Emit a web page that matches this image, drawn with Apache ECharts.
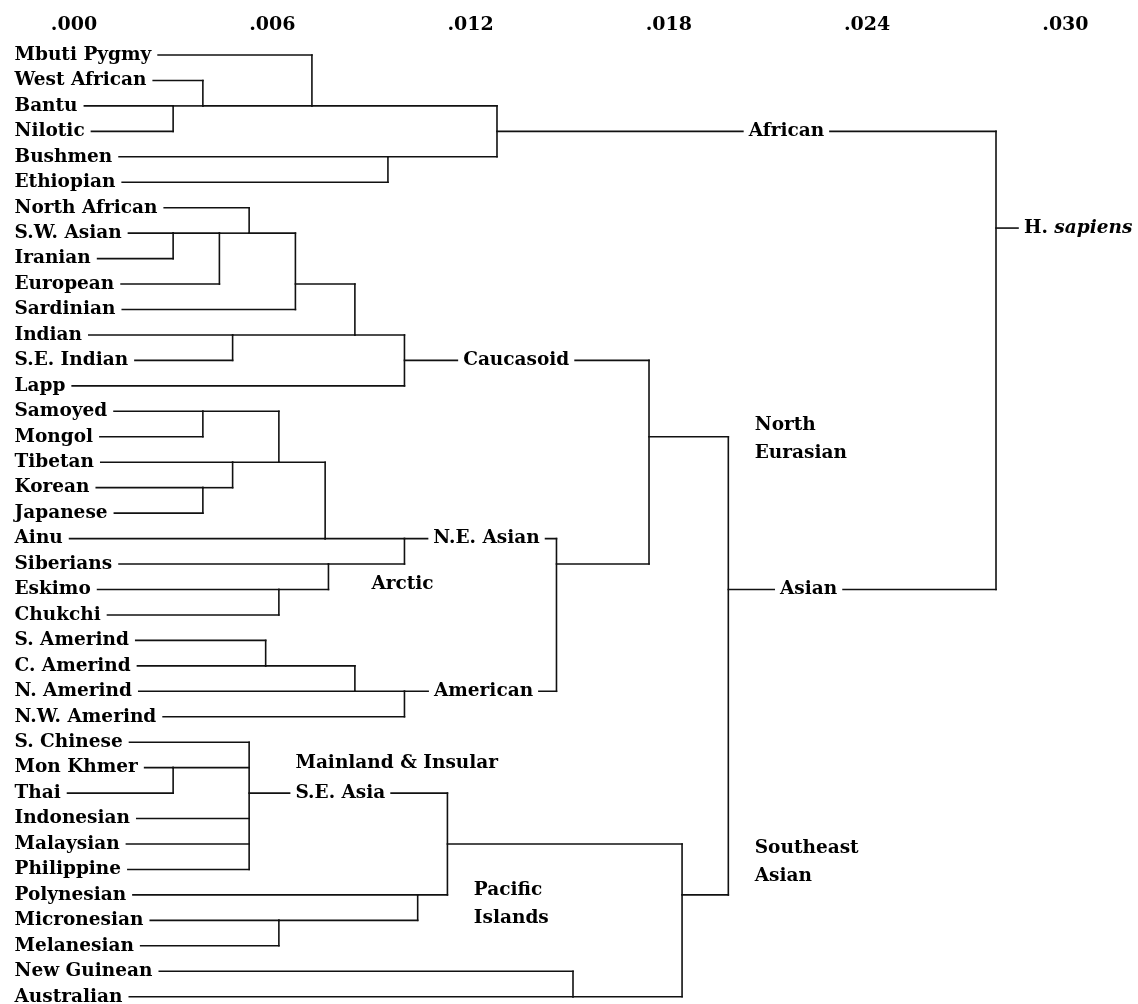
<!DOCTYPE html>
<html>
<head>
<meta charset="utf-8">
<script src="https://cdn.jsdelivr.net/npm/echarts@6/dist/echarts.min.js"></script>
<style>html,body{margin:0;padding:0;background:#fff}#chart{width:1138px;height:1004px}</style>
</head>
<body>
<div id="chart"></div>
<script>
// ---- Data (genetic distance, rows top to bottom) ----
const leafNames = [
  'Mbuti Pygmy','West African','Bantu','Nilotic','Bushmen','Ethiopian',
  'North African','S.W. Asian','Iranian','European','Sardinian','Indian','S.E. Indian','Lapp',
  'Samoyed','Mongol','Tibetan','Korean','Japanese','Ainu','Siberians','Eskimo','Chukchi',
  'S. Amerind','C. Amerind','N. Amerind','N.W. Amerind',
  'S. Chinese','Mon Khmer','Thai','Indonesian','Malaysian','Philippine',
  'Polynesian','Micronesian','Melanesian','New Guinean','Australian'
];

const nodeIds = [
  'Bantu+Nilotic','WestAfrican+','Mbuti+','Bushmen+Ethiopian','African',
  'SWAsian+Iranian','+European','+NorthAfrican','+Sardinian','Indian+SEIndian','Europe+India','Caucasoid',
  'Samoyed+Mongol','Korean+Japanese','Tibetan+','EastAsia','+Ainu','Eskimo+Chukchi','Arctic','N.E. Asian',
  'SAmerind+CAmerind','+NAmerind','American','NEAsia+America','North Eurasian',
  'MonKhmer+Thai','S.E. Asia','Micronesian+Melanesian','Pacific Islands','SEAsia+Pacific',
  'NewGuinean+Australian','Southeast Asian','Asian','H. sapiens'
];

const nodeChildren = [
  ['Bantu','Nilotic'], ['West African','Bantu+Nilotic'], ['Mbuti Pygmy','WestAfrican+'],
  ['Bushmen','Ethiopian'], ['Mbuti+','Bushmen+Ethiopian'],
  ['S.W. Asian','Iranian'], ['SWAsian+Iranian','European'], ['North African','+European'],
  ['+NorthAfrican','Sardinian'], ['Indian','S.E. Indian'], ['+Sardinian','Indian+SEIndian'],
  ['Europe+India','Lapp'],
  ['Samoyed','Mongol'], ['Korean','Japanese'], ['Tibetan','Korean+Japanese'],
  ['Samoyed+Mongol','Tibetan+'], ['EastAsia','Ainu'], ['Eskimo','Chukchi'],
  ['Siberians','Eskimo+Chukchi'], ['+Ainu','Arctic'],
  ['S. Amerind','C. Amerind'], ['SAmerind+CAmerind','N. Amerind'], ['+NAmerind','N.W. Amerind'],
  ['N.E. Asian','American'], ['Caucasoid','NEAsia+America'],
  ['Mon Khmer','Thai'], ['S. Chinese','MonKhmer+Thai','Indonesian','Malaysian','Philippine'],
  ['Micronesian','Melanesian'], ['Polynesian','Micronesian+Melanesian'],
  ['S.E. Asia','Pacific Islands'], ['New Guinean','Australian'],
  ['SEAsia+Pacific','NewGuinean+Australian'], ['North Eurasian','Southeast Asian'],
  ['African','Asian']
];

const nodeHeights = [
  0.0030, 0.0039, 0.0072, 0.0095, 0.0128,
  0.0030, 0.0044, 0.0053, 0.0067, 0.0048, 0.0085, 0.0100,
  0.0039, 0.0039, 0.0048, 0.0062, 0.0076, 0.0062, 0.0077, 0.0100,
  0.0058, 0.0085, 0.0100, 0.0146, 0.0174,
  0.0030, 0.0053, 0.0062, 0.0104, 0.0113,
  0.0151, 0.0184, 0.0198, 0.0279
];

// row (leaf index units) at which each node's stem leaves toward its parent
const nodeStemRows = [
  2, 2, 2, 4, 3,
  7, 7, 7, 9, 11, 11, 12,
  14, 17, 16, 16, 19, 21, 20, 19,
  24, 25, 25, 20, 15,
  28, 29, 34, 33, 31,
  37, 33, 21, 6.8
];

const tickValues = [0, 0.006, 0.012, 0.018, 0.024, 0.030];

// clade names written on their stems
const stemLabelNodes = ['African','Caucasoid','N.E. Asian','American','S.E. Asia','Asian'];

// free-standing group names
const noteTexts = ['Arctic','North\nEurasian','Mainland & Insular','Pacific\nIslands','Southeast\nAsian'];

// ---- Layout / style (not data) ----
const stemLabelFrac = {'African':0.58,'Caucasoid':0.457,'N.E. Asian':0.54,'American':0.52,'S.E. Asia':0.46,'Asian':0.30};
const notePlaces = [[0.0090,20.8],[0.0206,15.09],[0.0067,27.82],[0.0121,33.36],[0.0206,31.73]];
const X_MIN = -0.0018, X_MAX = 0.032;
const FONT = 'bold 18.5px "DejaVu Serif"';
const LINE = {stroke:'#111', lineWidth:1.6, lineCap:'square'};

const nodeIndex = {}; nodeIds.forEach((id,i)=>nodeIndex[id]=i);
const leafIndex = {}; leafNames.forEach((n,i)=>leafIndex[n]=i);
const parentOf = {};
nodeChildren.forEach((kids,i)=>kids.forEach(k=>parentOf[k]=i));
const isLeaf = k => leafIndex[k] !== undefined;
const stemRow = k => isLeaf(k) ? leafIndex[k] : nodeStemRows[nodeIndex[k]];
const heightOf = k => isLeaf(k) ? X_MIN : nodeHeights[nodeIndex[k]];

function seg(p, q) {
  return {type:'line', shape:{x1:p[0],y1:p[1],x2:q[0],y2:q[1]}, style:LINE, z2:1};
}

function treeItem(params, api) {
  const i = api.value(2);
  const h = nodeHeights[i];
  const kids = nodeChildren[i];
  const rows = kids.map(stemRow);
  const lo = Math.min(...rows), hi = Math.max(...rows);
  const out = [seg(api.coord([h, lo]), api.coord([h, hi]))];
  kids.forEach((k, j) => {
    out.push(seg(api.coord([heightOf(k), rows[j]]), api.coord([h, rows[j]])));
  });
  if (parentOf[nodeIds[i]] === undefined) {
    const p = api.coord([h, nodeStemRows[i]]);
    out.push(seg(p, [p[0] + 22, p[1]]));
    out.push({type:'text', z2:10, style:{
      x:p[0] + 28, y:p[1], text:'H. {i|sapiens}', fill:'#000', font:FONT,
      align:'left', verticalAlign:'middle', textAlign:'left', textVerticalAlign:'middle',
      rich:{i:{font:'italic bold 18.5px "DejaVu Serif"', fill:'#000'}}
    }});
  }
  return {type:'group', children:out};
}

function labelItem(params, api) {
  const kind = api.value(2), k = api.value(3);
  const p = api.coord([api.value(0), api.value(1)]);
  const base = {x:p[0], y:p[1], fill:'#000', font:FONT, verticalAlign:'middle', textVerticalAlign:'middle'};
  if (kind === 0) {
    return {type:'text', z2:10, style:Object.assign(base, {x:p[0] - 5, text:leafNames[k], align:'left', textAlign:'left',
      backgroundColor:'#fff', padding:[1,6,1,5]})};
  }
  if (kind === 1) {
    return {type:'text', z2:10, style:Object.assign(base, {text:stemLabelNodes[k], align:'center', textAlign:'center',
      backgroundColor:'#fff', padding:[1,5,1,5]})};
  }
  return {type:'text', z2:10, style:Object.assign(base, {text:noteTexts[k], align:'left', textAlign:'left', lineHeight:28})};
}

const treeData = nodeIds.map((id,i)=>[nodeHeights[i], nodeStemRows[i], i]);
const labelData = [];
leafNames.forEach((n,i)=>labelData.push([X_MIN, i, 0, i]));
stemLabelNodes.forEach((id,k)=>{
  const i = nodeIndex[id];
  const ph = nodeHeights[parentOf[id]];
  const x = nodeHeights[i] + stemLabelFrac[id] * (ph - nodeHeights[i]);
  labelData.push([x, nodeStemRows[i], 1, k]);
});
noteTexts.forEach((t,k)=>labelData.push([notePlaces[k][0], notePlaces[k][1], 2, k]));

const chart = echarts.init(document.getElementById('chart'), null, {renderer:'canvas'});
chart.setOption({
  animation:false,
  backgroundColor:'#fff',
  grid:{left:14.5, right:6.5, top:55, bottom:7.3, containLabel:false, outerBoundsMode:'none'},
  xAxis:{
    type:'value', position:'top', min:X_MIN, max:X_MAX,
    axisLine:{show:false}, axisTick:{show:false}, splitLine:{show:false},
    axisLabel:{
      customValues:tickValues, margin:20, color:'#000',
      fontFamily:'"DejaVu Serif"', fontWeight:'bold', fontSize:19,
      formatter:v=>'.' + String(Math.round(v*1000)).padStart(3,'0')
    }
  },
  yAxis:{type:'value', inverse:true, min:0, max:37, show:false},
  series:[
    {type:'custom', name:'tree', coordinateSystem:'cartesian2d', renderItem:treeItem,
     encode:{x:0, y:1}, data:treeData, z:2, clip:false, silent:true},
    {type:'custom', name:'labels', coordinateSystem:'cartesian2d', renderItem:labelItem,
     encode:{x:0, y:1}, data:labelData, z:3, clip:false, silent:true}
  ]
});
</script>
</body>
</html>
